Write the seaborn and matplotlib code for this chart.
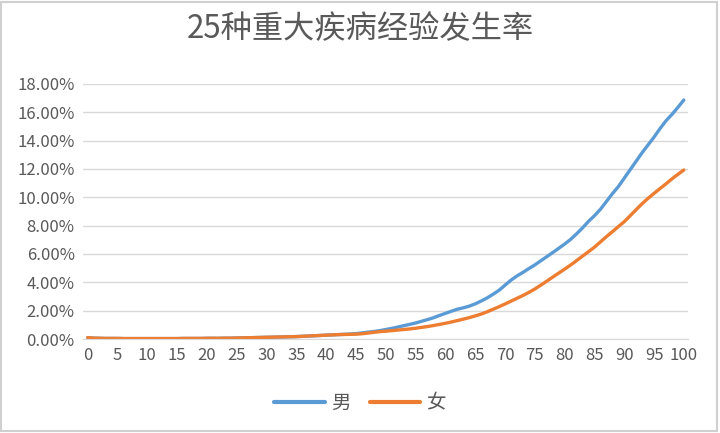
import numpy as np
import pandas as pd
import matplotlib
matplotlib.use('Agg')
import matplotlib.pyplot as plt
import seaborn as sns
from matplotlib.ticker import FuncFormatter, MultipleLocator
from matplotlib.patches import Rectangle

# ages 0..100, incidence in percent
ages = list(range(0, 101))

male = [0.10, 0.06, 0.05, 0.04, 0.04, 0.04, 0.03, 0.03, 0.03, 0.03,
        0.03, 0.03, 0.03, 0.03, 0.03, 0.03, 0.04, 0.04, 0.04, 0.04,
        0.05, 0.05, 0.05, 0.06, 0.06, 0.07, 0.08, 0.09, 0.10, 0.11,
        0.12, 0.13, 0.14, 0.15, 0.16, 0.17, 0.19, 0.21, 0.23, 0.25,
        0.27, 0.29, 0.31, 0.33, 0.35, 0.38, 0.43, 0.48, 0.53, 0.59,
        0.67, 0.75, 0.84, 0.94, 1.03, 1.13, 1.25, 1.37, 1.50, 1.66,
        1.81, 1.96, 2.10, 2.20, 2.32, 2.48, 2.68, 2.90, 3.16, 3.44,
        3.80, 4.15, 4.45, 4.70, 4.97, 5.23, 5.52, 5.81, 6.10, 6.40,
        6.70, 7.03, 7.42, 7.84, 8.30, 8.70, 9.15, 9.70, 10.25, 10.75,
        11.35, 11.95, 12.55, 13.15, 13.70, 14.25, 14.85, 15.40, 15.85, 16.35,
        16.87]

female = [0.10, 0.06, 0.05, 0.04, 0.04, 0.04, 0.03, 0.03, 0.03, 0.03,
          0.03, 0.03, 0.03, 0.03, 0.03, 0.03, 0.04, 0.04, 0.04, 0.04,
          0.05, 0.05, 0.05, 0.06, 0.06, 0.07, 0.08, 0.09, 0.10, 0.11,
          0.12, 0.13, 0.14, 0.15, 0.16, 0.17, 0.19, 0.21, 0.23, 0.25,
          0.27, 0.29, 0.31, 0.32, 0.33, 0.34, 0.37, 0.42, 0.47, 0.52,
          0.55, 0.59, 0.63, 0.67, 0.71, 0.76, 0.82, 0.88, 0.95, 1.03,
          1.11, 1.20, 1.30, 1.40, 1.51, 1.63, 1.76, 1.92, 2.10, 2.28,
          2.47, 2.67, 2.87, 3.07, 3.29, 3.53, 3.80, 4.08, 4.37, 4.65,
          4.93, 5.22, 5.53, 5.85, 6.16, 6.48, 6.85, 7.22, 7.57, 7.93,
          8.28, 8.70, 9.13, 9.55, 9.93, 10.28, 10.62, 10.95, 11.30, 11.62,
          11.93]

labels = ['男', '女']
colors = ['#5B9BD5', '#ED7D31']

df = pd.DataFrame({
    'age': ages * 2,
    'rate': np.array(male + female) / 100.0,
    'sex': [labels[0]] * len(ages) + [labels[1]] * len(ages),
})

sns.set_style('white')
plt.rcParams['font.family'] = ['Noto Sans CJK SC', 'DejaVu Sans']

fig = plt.figure(figsize=(7.2, 4.33), dpi=100)
ax = fig.add_axes([83 / 720, 1 - 339 / 433, (688 - 83) / 720, (339 - 84) / 433])

sns.lineplot(data=df, x='age', y='rate', hue='sex', palette=colors,
             linewidth=2.4, ax=ax, legend=False)

ax.set_xlim(-0.8, 100.7)
ax.set_ylim(0, 0.18)
ax.xaxis.set_major_locator(MultipleLocator(5))
ax.yaxis.set_major_locator(MultipleLocator(0.02))
ax.yaxis.set_major_formatter(FuncFormatter(lambda v, p: '%.2f%%' % (v * 100)))
ax.grid(axis='y', color='#D9D9D9', linewidth=1)
ax.set_axisbelow(True)
for s in ['top', 'right', 'left']:
    ax.spines[s].set_visible(False)
ax.spines['bottom'].set_color('#D9D9D9')
ax.tick_params(axis='both', length=0, labelsize=12, colors='#595959', pad=6)
ax.set_xlabel('')
ax.set_ylabel('')

fig.suptitle('25种重大疾病经验发生率', x=0.5, y=0.97, fontsize=22.5, color='#595959')

handles = [plt.Line2D([], [], color=c, linewidth=3) for c in colors]
fig.legend(handles, labels, loc='center', bbox_to_anchor=(0.5, 1 - 403 / 433),
           ncol=2, frameon=False, fontsize=14, labelcolor='#595959',
           handlelength=2.6, columnspacing=1.0, handletextpad=0.3)

fig.patches.append(Rectangle((0.002, 0.004), 0.994, 0.992, transform=fig.transFigure,
                             fill=False, edgecolor='#D0D0D0', linewidth=1.5))

fig.savefig('out.png', dpi=100)
